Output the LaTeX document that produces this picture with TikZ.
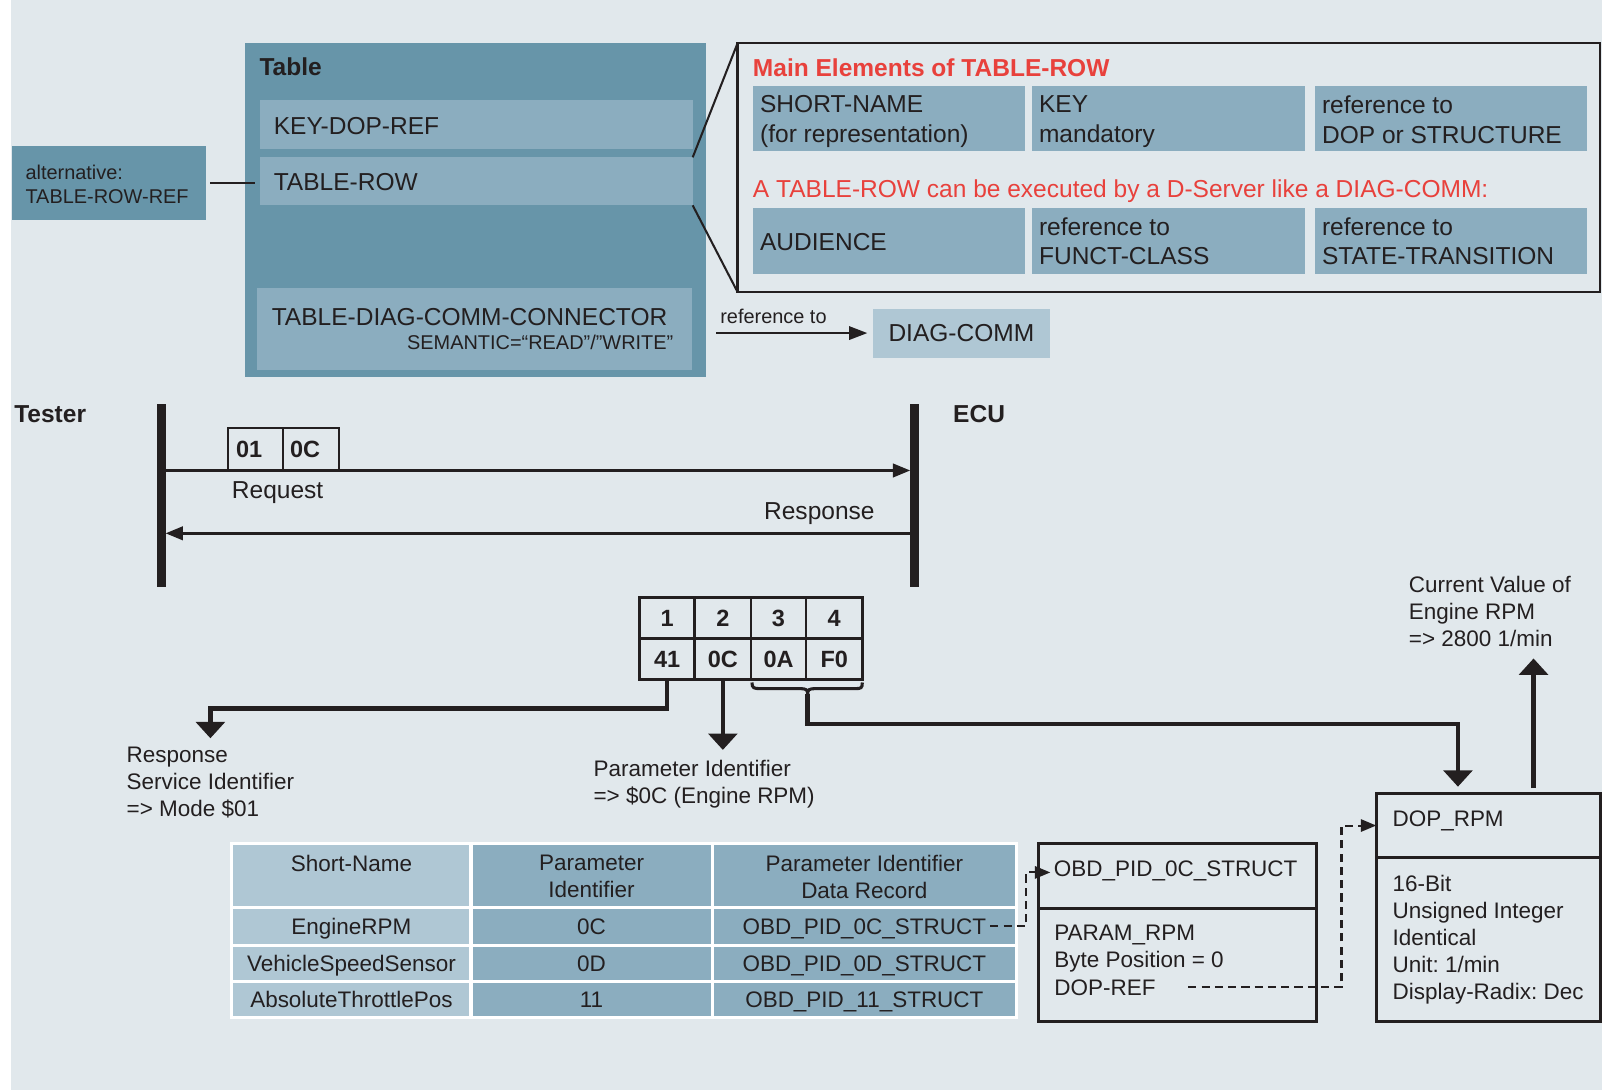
\documentclass[tikz,border=0pt]{standalone}
\usepackage{fontspec}
\setmainfont{Liberation Sans}
\usetikzlibrary{arrows.meta}
\frenchspacing

\definecolor{bg}{HTML}{E1E8EC}
\definecolor{boxdark}{HTML}{6795A9}
\definecolor{boxmid}{HTML}{8BADBF}
\definecolor{boxlight}{HTML}{AFC7D4}
\definecolor{accent}{HTML}{E8413C}
\definecolor{ink}{HTML}{231F20}

\begin{document}
\begin{tikzpicture}[x=1pt,y=-1pt,
  every node/.style={inner sep=0pt, outer sep=0pt, text=ink},
  f24/.style={font=\fontsize{24}{29}\selectfont},
  f22/.style={font=\fontsize{22}{26.4}\selectfont},
  f19/.style={font=\fontsize{19.5}{23.5}\selectfont},
  b24/.style={font=\fontsize{24}{29}\selectfont\bfseries},
  b23/.style={font=\fontsize{23}{27}\selectfont\bfseries},
  sized/.style 2 args={anchor=north west, minimum width=#1pt, minimum height=#2pt},
  darkbox/.style={fill=boxdark},
  midbox/.style={fill=boxmid},
  lightbox/.style={fill=boxlight},
  framebox/.style={draw=ink, line width=2.5pt},
  heavybox/.style={draw=ink, line width=3pt},
  bytecell/.style={draw=ink, line width=2.5pt, b23},
  tcell/.style={draw=white, line width=3pt},
  rowtxt/.style={f22, text height=16pt, text depth=0pt},
  link/.style={draw=ink, line width=2pt},
  lifeline/.style={draw=ink, line width=8pt},
  msg/.style={draw=ink, line width=3pt, -{Triangle[length=17pt,width=13pt]}},
  reflink/.style={draw=ink, line width=2.5pt, -{Triangle[length=18pt,width=13pt]}},
  bigarrow/.style={draw=ink, line width=4.5pt, -{Triangle[length=16pt,width=28pt]}},
  bracestyle/.style={draw=ink, line width=3pt},
  dasharrow/.style={draw=ink, line width=2pt, dash pattern=on 8pt off 5pt, -{Triangle[length=15pt,width=12pt]}}
]
\useasboundingbox (0,0) rectangle (1568,1067);
\fill[bg] (10.5,0) rectangle (1568,1067);

% ---------- Table structure ----------
\node[sized={190}{72}, darkbox] (alt) at (12,143) {};
\node[f19, anchor=north west, align=left] (altlbl) at (25,161.5) {alternative:\\TABLE-ROW-REF};

\node[sized={451}{327}, darkbox] (tbl) at (240,42) {};
\node[b24, anchor=base west] (tbltitle) at (254,74) {Table};
\node[sized={424}{48}, midbox] (keydop) at (254,98) {};
\node[f24, anchor=base west] (keydoplbl) at (268,131.5) {KEY-DOP-REF};
\node[sized={424}{47}, midbox] (trow) at (254,154) {};
\node[f24, anchor=base west] (trowlbl) at (268,186.5) {TABLE-ROW};
\node[sized={425}{80}, midbox] (tdcc) at (252,282) {};
\node[f24, anchor=base west] (tdcclbl) at (266,319) {TABLE-DIAG-COMM-CONNECTOR};
\node[f19, anchor=base east] (semlbl) at (659,342) {SEMANTIC=“READ”/”WRITE”};

\draw[link] ([xshift=4pt]alt.east) -- ([xshift=-4pt]alt.east -| trow.west);

% ---------- Main elements of TABLE-ROW ----------
\node[sized={844}{244}, framebox] (main) at (722,42) {};
\draw[link] (trow.north east) -- (main.north west);
\draw[link] (trow.south east) -- (main.south west);

\node[b24, anchor=base west, text=accent] (mtitle) at (737,75) {Main Elements of TABLE-ROW};
\node[sized={266}{64}, midbox] (sn) at (737,84) {};
\node[sized={267}{64}, midbox] (key) at (1010,84) {};
\node[sized={266}{64}, midbox] (keyref) at (1287,84) {};
\node[f24, anchor=north west, align=left] (snlbl) at (744,93.8) {SHORT-NAME\\(for representation)};
\node[f24, anchor=north west, align=left] (keylbl) at (1017,93.8) {KEY\\mandatory};
\node[f24, anchor=north west, align=left] (keyreflbl) at (1294,93.8) {reference to\\DOP or STRUCTURE};

\node[f24, anchor=base west, text=accent] (exec) at (737,193) {A TABLE-ROW can be executed by a D-Server like a DIAG-COMM:};
\node[sized={266}{64}, midbox] (aud) at (737,204) {};
\node[sized={267}{64}, midbox] (fc) at (1010,204) {};
\node[sized={266}{64}, midbox] (st) at (1287,204) {};
\node[f24, anchor=base west] (audlbl) at (744,245) {AUDIENCE};
\node[f24, anchor=north west, align=left] (fclbl) at (1017,212.8) {reference to\\FUNCT-CLASS};
\node[f24, anchor=north west, align=left] (stlbl) at (1294,212.8) {reference to\\STATE-TRANSITION};

\node[f19, anchor=base west] (reflbl) at (705,316.5) {reference to};
\node[sized={174}{48}, lightbox, f24] (diag) at (854,302) {DIAG-COMM};
\coordinate (refstart) at (701,326);
\draw[reflink, shorten >=5pt] (refstart) -- (diag.west);

% ---------- Request / response ----------
\node[b24, anchor=base west] (tester) at (14,414) {Tester};
\node[b24, anchor=base west] (ecu) at (933,414) {ECU};
\coordinate (tst) at (158,395.5);
\coordinate (ecul) at (895,395.5);
\draw[lifeline] (tst) -- ++(0,179.5);
\draw[lifeline] (ecul) -- ++(0,179.5);
\coordinate (reqy) at (0,460.5);
\coordinate (resy) at (0,522);

\node[sized={54}{42}, draw=ink, line width=2pt] (rq1) at (223,418.5) {};
\node[sized={54.5}{42}, draw=ink, line width=2pt] (rq2) at (277,418.5) {};
\node[b23, anchor=base west] (rq1lbl) at (231,448) {01};
\node[b23, anchor=base west] (rq2lbl) at (284,448) {0C};
\draw[msg, shorten <=4pt, shorten >=4pt] (tst |- reqy) -- (ecul |- reqy);
\draw[msg, shorten <=4pt, shorten >=4pt] (ecul |- resy) -- (tst |- resy);
\node[f24, anchor=base west] (reqlbl) at (227,488) {Request};
\node[f24, anchor=base east] (reslbl) at (856,508) {Response};

% ---------- Response bytes ----------
\node[sized={54}{40}, bytecell] (h1) at (626,585) {1};
\node[sized={55}{40}, bytecell] (h2) at (680,585) {2};
\node[sized={54}{40}, bytecell] (h3) at (735,585) {3};
\node[sized={55}{40}, bytecell] (h4) at (789,585) {4};
\node[sized={54}{40}, bytecell] (v1) at (626,625) {41};
\node[sized={55}{40}, bytecell] (v2) at (680,625) {0C};
\node[sized={54}{40}, bytecell] (v3) at (735,625) {0A};
\node[sized={55}{40}, bytecell] (v4) at (789,625) {F0};

\draw[bracestyle] (736,668) .. controls (736,673.5) and (738,674) .. (744,674) -- (783,674)
  .. controls (789,674) and (790.5,675) .. (790.5,679.5)
  .. controls (790.5,675) and (792,674) .. (798,674) -- (837,674)
  .. controls (843,674) and (844,673.5) .. (844,668);
\coordinate (bracetip) at (790.5,679);

\node[f22, anchor=north west, align=left] (rsid) at (124,731.3) {Response\\Service Identifier\\=> Mode \$01};
\node[f22, anchor=north west, align=left] (pid) at (581,743.8) {Parameter Identifier\\=> \$0C (Engine RPM)};
\node[f22, anchor=north west, align=left] (curval) at (1379,564) {Current Value of\\Engine RPM\\=> 2800 1/min};

% ---------- DOP and structure ----------
\node[sized={220}{63}, heavybox] (dophead) at (1347,776.5) {};
\node[sized={220}{160}, heavybox] (dopbody) at (1347,839.5) {};
\node[f22, anchor=base west] (doptitle) at (1363,808.5) {DOP\_RPM};
\node[f22, anchor=north west, align=left] (dopinfo) at (1363,857) {16-Bit\\Unsigned Integer\\Identical\\Unit: 1/min\\Display-Radix: Dec};

\node[sized={272.5}{63.5}, heavybox] (obdhead) at (1016,825.5) {};
\node[sized={272.5}{111}, heavybox] (obdbody) at (1016,889) {};
\node[f22, anchor=base west] (obdtitle) at (1031.5,857.4) {OBD\_PID\_0C\_STRUCT};
\node[f22, anchor=north west, align=left] (obdinfo) at (1032,905.3) {PARAM\_RPM\\Byte Position = 0};
\node[f22, anchor=base west] (dopreflbl) at (1032,974) {DOP-REF};

\draw[bigarrow, shorten >=8.7pt] (v1.south) -- ++(0,28.5) -| (rsid.north);
\draw[bigarrow] (v2.south) -- ++(0,69);
\draw[bigarrow, shorten >=6.5pt] (bracetip) -- ++(0,29.5) -| ([xshift=-30pt]dophead.north);
\draw[bigarrow, shorten <=5pt] ([xshift=44pt]dophead.north) -- ++(0,-132);

% ---------- PID table ----------
\node[sized={234}{62}, lightbox, tcell] (hdr1) at (227,826) {};
\node[sized={236}{62}, midbox, tcell] (hdr2) at (461,826) {};
\node[sized={298}{62}, midbox, tcell] (hdr3) at (697,826) {};
\node[sized={234}{37}, lightbox, tcell] (r1c1) at (227,888) {};
\node[sized={236}{37}, midbox, tcell] (r1c2) at (461,888) {};
\node[sized={298}{37}, midbox, tcell] (r1c3) at (697,888) {};
\node[sized={234}{36}, lightbox, tcell] (r2c1) at (227,925) {};
\node[sized={236}{36}, midbox, tcell] (r2c2) at (461,925) {};
\node[sized={298}{36}, midbox, tcell] (r2c3) at (697,925) {};
\node[sized={234}{35}, lightbox, tcell] (r3c1) at (227,961) {};
\node[sized={236}{35}, midbox, tcell] (r3c2) at (461,961) {};
\node[sized={298}{35}, midbox, tcell] (r3c3) at (697,961) {};

\node[f22, anchor=north, align=center] (hdr1lbl) at (hdr1.north |- 0,837) {Short-Name};
\node[f22, anchor=north, align=center] (hdr2lbl) at (hdr2.north |- 0,837) {Parameter\\Identifier};
\node[f22, anchor=north, align=center] (hdr3lbl) at (hdr3.north |- 0,837) {Parameter Identifier\\Data Record};
\node[rowtxt] (n1) at (r1c1.center) {EngineRPM};
\node[rowtxt] (p1) at (r1c2.center) {0C};
\node[rowtxt] (pid0c) at (r1c3.center) {OBD\_PID\_0C\_STRUCT};
\node[rowtxt] (n2) at (r2c1.center) {VehicleSpeedSensor};
\node[rowtxt] (p2) at (r2c2.center) {0D};
\node[rowtxt] (pid0d) at (r2c3.center) {OBD\_PID\_0D\_STRUCT};
\node[rowtxt] (n3) at (r3c1.center) {AbsoluteThrottlePos};
\node[rowtxt] (p3) at (r3c2.center) {11};
\node[rowtxt] (pid11) at (r3c3.center) {OBD\_PID\_11\_STRUCT};

% ---------- references ----------
\draw[dasharrow, shorten >=3.5pt] ([xshift=4pt]pid0c.east) -| ([xshift=-27pt,yshift=-2pt]obdtitle.west) -- ([yshift=-2pt]obdtitle.west);
\draw[dasharrow] ([xshift=32pt]dopreflbl.east) -- ++(150,0) |- (dophead.west);
\end{tikzpicture}
\end{document}
